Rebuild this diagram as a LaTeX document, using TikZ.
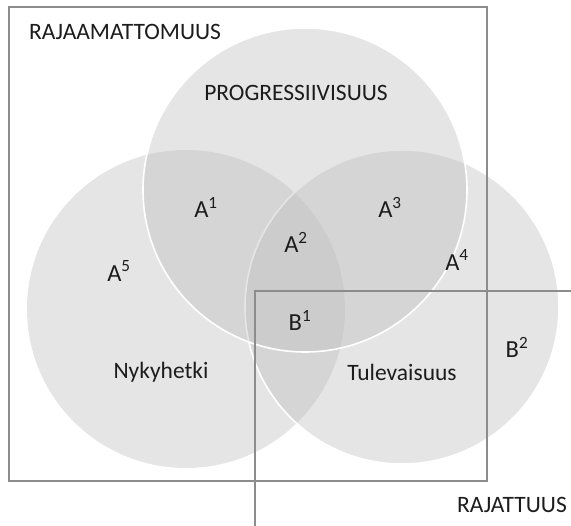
\documentclass[tikz,border=0pt]{standalone}
\usepackage{fontspec}
\setmainfont{Carlito}
\usepackage{xcolor}
\usepackage{tikz}

\definecolor{setgray}{HTML}{BEBEBF}
\definecolor{framegray}{HTML}{8C8C8C}
\definecolor{textgray}{HTML}{1C1C1C}

\begin{document}
\begin{tikzpicture}[
    x=1pt, y=-1pt,
    set/.style={fill=setgray, fill opacity=0.4},
    rim/.style={draw=white, line width=1.6pt},
    frame/.style={draw=framegray, line width=2pt},
    every node/.style={
        inner sep=0pt,
        text=textgray,
        font=\fontsize{23.5}{27}\selectfont
    },
    region/.style={font=\fontsize{24.5}{28}\selectfont}
]

\useasboundingbox (0,0) rectangle (571,526);

% Circles
\path[set] (186,309) circle (159pt);
\path[set, rim] (402,307) circle (157pt);
\path[set, rim] (305,190) circle (162pt);

% Labels
\node (unbound) at (125,32) {RAJAAMATTOMUUS};
\node (progress) at (296,93) {PROGRESSIIVISUUS};
\node (now) at (161,372) {Nykyhetki};
\node (future) at (402,372) {Tulevaisuus};
\node (bound) at (512,505) {RAJATTUUS};

\node[region] (a1) at (206,207) {A\textsuperscript{1}};
\node[region] (a2) at (296,242) {A\textsuperscript{2}};
\node[region] (a3) at (390,207) {A\textsuperscript{3}};
\node[region] (a4) at (457,260) {A\textsuperscript{4}};
\node[region] (a5) at (119,271) {A\textsuperscript{5}};
\node[region] (b1) at (300,320) {B\textsuperscript{1}};
\node[region] (b2) at (517,347) {B\textsuperscript{2}};

% Frames
\draw[frame] (9,7) rectangle (487,481);
\draw[frame] (571,291) -- (255,291) -- (255,526);

\end{tikzpicture}
\end{document}
